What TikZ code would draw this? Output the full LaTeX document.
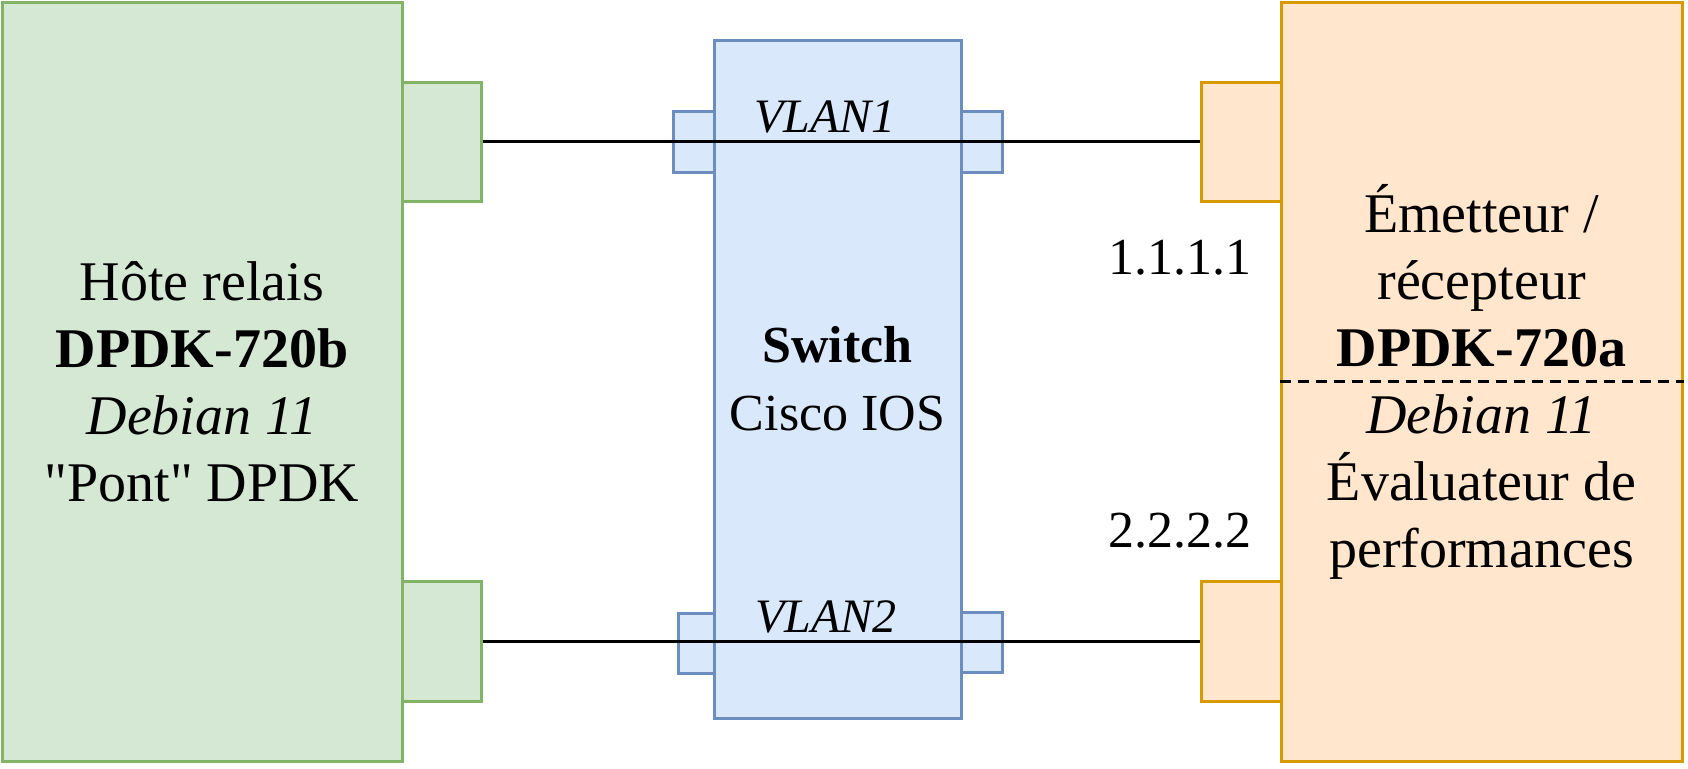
\documentclass[tikz,border=0pt]{standalone}
\usepackage{fontspec}
\setmainfont{Liberation Serif}[Ligatures=TeXOff]
\definecolor{gfill}{HTML}{D5E8D4}
\definecolor{gline}{HTML}{82B366}
\definecolor{bfill}{HTML}{DAE8FC}
\definecolor{bline}{HTML}{6C8EBF}
\definecolor{ofill}{HTML}{FFE6CC}
\definecolor{oline}{HTML}{D79B00}
\tikzset{
  box/.style={rectangle, draw, line width=1.5pt, inner sep=0pt, align=center},
  gbox/.style={box, fill=gfill, draw=gline},
  bbox/.style={box, fill=bfill, draw=bline},
  obox/.style={box, fill=ofill, draw=oline},
  big/.style={font=\fontsize{28}{33.5}\selectfont},
  mid/.style={font=\fontsize{26}{34}\selectfont},
  vlan/.style={font=\fontsize{24}{28}\selectfont\itshape, inner sep=0pt, anchor=base},
  ip/.style={font=\fontsize{26}{30}\selectfont, inner sep=0pt, anchor=base},
  wire/.style={line width=1.5pt, black},
}
\begin{document}
\begin{tikzpicture}[x=0.5pt, y=-0.5pt]
\useasboundingbox (0,0) rectangle (1688,768);
% left host
\node[gbox, big, minimum width=200pt, minimum height=379.5pt] (lb) at (202,381.5)
  {Hôte relais\\ \textbf{DPDK-720b}\\ \textit{Debian 11}\\ "Pont" DPDK};
\node[gbox, minimum width=39.5pt, minimum height=59.5pt] (lp1) at (441.5,141.5) {};
\node[gbox, minimum width=39.5pt, minimum height=60pt] (lp2) at (441.5,641.5) {};
% right host
\node[obox, big, minimum width=200.5pt, minimum height=379.5pt] (rb) at (1481.5,381.5)
  {Émetteur /\\ récepteur\\ \textbf{DPDK-720a}\\ \textit{Debian 11}\\ Évaluateur de\\ performances};
\draw[line width=1.5pt, dash pattern=on 5.5pt off 3.5pt] (rb.west) -- (rb.east);
\node[obox, minimum width=40pt, minimum height=59.5pt] (rp1) at (1241,141.5) {};
\node[obox, minimum width=40pt, minimum height=60pt] (rp2) at (1241,641.5) {};
% switch
\node[bbox, minimum width=20.5pt, minimum height=30.5pt] (sp1l) at (693.5,141.5) {};
\node[bbox, minimum width=20.5pt, minimum height=30.5pt] (sp1r) at (981.5,141.5) {};
\node[bbox, minimum width=18pt, minimum height=30pt] (sp2l) at (696,643.5) {};
\node[bbox, minimum width=20.5pt, minimum height=30pt] (sp2r) at (981.5,642) {};
\node[bbox, mid, minimum width=123.5pt, minimum height=339pt] (sw) at (837.5,379)
  {\textbf{Switch}\\ Cisco IOS};
% wires
\draw[wire] (lp1.east) -- (rp1.west);
\draw[wire] (lp2.east) -- (rp2.west);
% labels
\node[vlan] (v1) at (825,132) {VLAN1};
\node[vlan] (v2) at (826,632) {VLAN2};
\node[ip] (ip1) at (1180,274) {1.1.1.1};
\node[ip] (ip2) at (1180,547) {2.2.2.2};
\end{tikzpicture}
\end{document}
